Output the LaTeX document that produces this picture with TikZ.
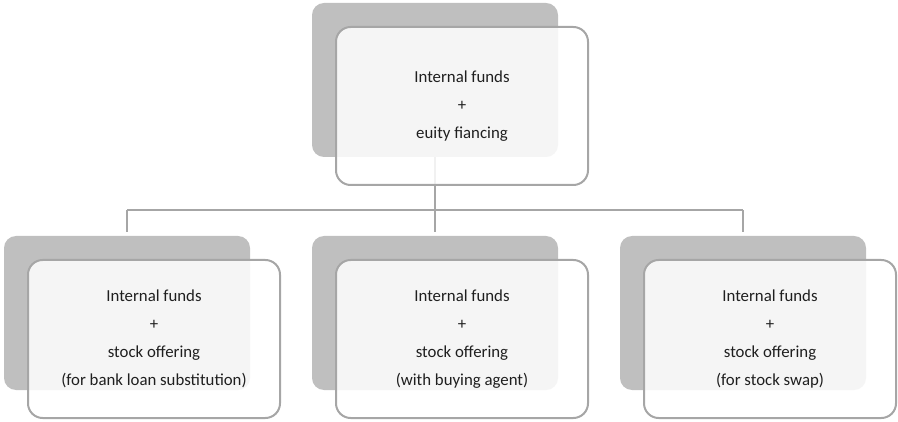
\documentclass[tikz,border=0pt]{standalone}
\usepackage{fontspec}
\setmainfont{Carlito}
\usepackage{xcolor}
\usetikzlibrary{positioning,calc}
\definecolor{shade}{RGB}{191,191,191}
\definecolor{edge}{RGB}{166,166,166}
\definecolor{wire}{RGB}{166,166,166}
\tikzset{
  backbox/.style={fill=shade,rounded corners=9pt,minimum width=184.5pt,
                  minimum height=115.5pt,inner sep=0pt},
  frontbox/.style={draw=edge,line width=1.5pt,fill=white,fill opacity=0.85,
                   text opacity=1,rounded corners=11pt,minimum width=189pt,
                   minimum height=118.5pt,align=center,inner sep=0pt,
                   font=\fontsize{12.6pt}{21pt}\selectfont,text=black!88},
  wireline/.style={draw=wire,line width=1.5pt},
}
\begin{document}
\begin{tikzpicture}[x=0.75pt,y=0.75pt]
  \useasboundingbox (0,0) rectangle (898,421);
  % grey back plates
  \node[backbox] (topb)   at (435,341) {};
  \node[backbox] (leftb)  at (127,108) {};
  \node[backbox] (midb)   at (435,108) {};
  \node[backbox] (rightb) at (743,108) {};

  % tree lines
  \coordinate (fork) at ($(topb.south)+(0,-53)$);
  \draw[wireline] (topb.south) -- (fork);
  \draw[wireline] (leftb.north|-fork) -- (rightb.north|-fork);
  \foreach \b in {leftb,midb,rightb}
    \draw[wireline] (\b.north|-fork) -- ([yshift=3]\b.north);

  % front cards
  \node[frontbox] (top)   at (462,315) {Internal funds\\+\\euity fiancing};
  \node[frontbox] (left)  at (154,82)  {Internal funds\\+\\stock offering\\(for bank loan substitution)};
  \node[frontbox] (mid)   at (462,82)  {Internal funds\\+\\stock offering\\(with buying agent)};
  \node[frontbox] (right) at (770,82)  {Internal funds\\+\\stock offering\\(for stock swap)};
\end{tikzpicture}
\end{document}
